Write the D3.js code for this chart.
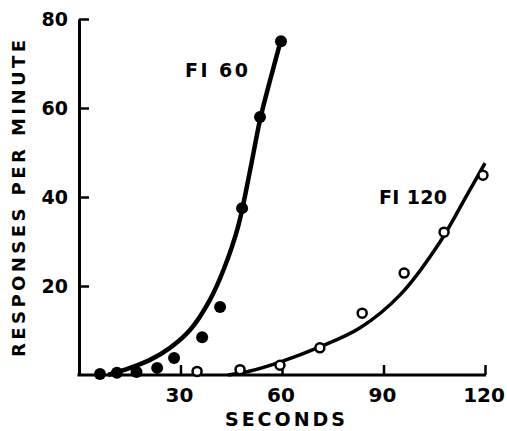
<!DOCTYPE html>
<html lang="en">
<head>
    <meta charset="UTF-8">
    <title>Responses per minute, FI 60 and FI 120</title>
    <script src="https://d3js.org/d3.v7.min.js"></script>
    <style>
        body {
            margin: 0;
            background: #fff;
        }
        .lbl {
            font-family: "DejaVu Sans", sans-serif;
            font-weight: bold;
            fill: #000;
        }
    </style>
</head>
<body>
    <div id="chart"></div>
    <script>
        // values
        const yTicks = [20, 40, 60, 80];
        const xTicks = [30, 60, 90, 120];

        // FI 60 (filled dots)
        const fi60Sec = [6.2, 11.2, 17, 23.1, 28.1, 36.4, 41.7, 48.2, 53.5, 59.7];
        const fi60Rate = [0.2, 0.5, 0.7, 1.6, 3.8, 8.5, 15.3, 37.5, 58, 75];
        // fitted curve for FI 60
        const fit60Sec = [8.6, 15.1, 21, 26.9, 32.8, 38.7, 42.9, 47, 50.6, 53.5, 56.5, 59.7];
        const fit60Rate = [0, 1.6, 3.4, 6.1, 10.1, 16.9, 24, 33.3, 46.1, 57.3, 66.3, 75.3];

        // FI 120 (open circles)
        const fi120Sec = [34.9, 47.6, 59.4, 71.2, 83.7, 96.1, 107.9, 119.4];
        const fi120Rate = [0.8, 1.2, 2.2, 6.1, 13.9, 22.9, 32.1, 44.9];
        // fitted curve for FI 120
        const fit120Sec = [44, 50.6, 59.4, 71.2, 83.1, 94.9, 106.7, 114.7, 120];
        const fit120Rate = [0, 0.9, 2.9, 6.3, 10.6, 18, 29.9, 40.5, 47.6];

        const width = 507;
        const height = 431;

        const svg = d3.select('#chart')
            .append('svg')
            .attr('width', width)
            .attr('height', height);

        const x = d3.scaleLinear().domain([0, 120]).range([79, 485]);
        const y = d3.scaleLinear().domain([0, 80]).range([375, 19]);

        const zip = (a, b) => a.map((v, i) => ({ t: v, r: b[i] }));

        // axes
        const yAxis = svg.append('g')
            .attr('transform', `translate(${x(0)},0)`)
            .call(d3.axisRight(y).tickValues(yTicks).tickSize(10).tickSizeOuter(0).tickFormat(''));
        const xAxis = svg.append('g')
            .attr('transform', `translate(0,${y(0)})`)
            .call(d3.axisTop(x).tickValues(xTicks).tickSize(10).tickSizeOuter(0).tickFormat(''));
        [yAxis, xAxis].forEach(g => {
            g.select('.domain').attr('stroke', '#000').attr('stroke-width', 3);
            g.selectAll('.tick line').attr('stroke', '#000').attr('stroke-width', 2.5);
        });
        xAxis.select('.domain').attr('d', `M${x(0) - 1.5},0H${x(120) + 1}`);

        // tick labels
        svg.selectAll('.ylab')
            .data(yTicks)
            .enter().append('text')
            .attr('class', 'lbl')
            .attr('x', 68)
            .attr('y', d => y(d) + 7)
            .attr('text-anchor', 'end')
            .attr('font-size', 19)
            .text(d => d);

        svg.selectAll('.xlab')
            .data(xTicks)
            .enter().append('text')
            .attr('class', 'lbl')
            .attr('x', d => x(d) - 1)
            .attr('y', 402)
            .attr('text-anchor', 'middle')
            .attr('font-size', 20)
            .text(d => d);

        // axis titles
        svg.append('text')
            .attr('class', 'lbl')
            .attr('x', 225)
            .attr('y', 426)
            .attr('font-size', 19)
            .attr('textLength', 120)
            .attr('lengthAdjust', 'spacing')
            .text('SECONDS');

        svg.append('text')
            .attr('class', 'lbl')
            .attr('transform', 'translate(25,357) rotate(-90)')
            .attr('font-size', 18)
            .attr('textLength', 317)
            .attr('lengthAdjust', 'spacing')
            .text('RESPONSES PER MINUTE');

        // curves
        const line = d3.line()
            .x(d => x(d.t))
            .y(d => y(d.r))
            .curve(d3.curveCatmullRom.alpha(0.5));

        svg.append('path')
            .datum(zip(fit60Sec, fit60Rate))
            .attr('fill', 'none')
            .attr('stroke', '#000')
            .attr('stroke-width', 4.5)
            .attr('d', line);

        svg.append('path')
            .datum(zip(fit120Sec, fit120Rate))
            .attr('fill', 'none')
            .attr('stroke', '#000')
            .attr('stroke-width', 3.5)
            .attr('d', line);

        // points
        svg.selectAll('.dot60')
            .data(zip(fi60Sec, fi60Rate))
            .enter().append('circle')
            .attr('cx', d => x(d.t))
            .attr('cy', d => y(d.r))
            .attr('r', 6)
            .attr('fill', '#000');

        svg.selectAll('.dot120')
            .data(zip(fi120Sec, fi120Rate))
            .enter().append('circle')
            .attr('cx', d => x(d.t))
            .attr('cy', d => y(d.r))
            .attr('r', 4.5)
            .attr('fill', '#fff')
            .attr('stroke', '#000')
            .attr('stroke-width', 2.5);

        // series labels
        svg.append('text')
            .attr('class', 'lbl')
            .attr('x', 185)
            .attr('y', 77)
            .attr('font-size', 19)
            .attr('textLength', 63)
            .attr('lengthAdjust', 'spacing')
            .text('FI 60');

        svg.append('text')
            .attr('class', 'lbl')
            .attr('x', 379)
            .attr('y', 204)
            .attr('font-size', 19)
            .attr('textLength', 68)
            .attr('lengthAdjust', 'spacing')
            .text('FI 120');
    </script>
</body>
</html>
